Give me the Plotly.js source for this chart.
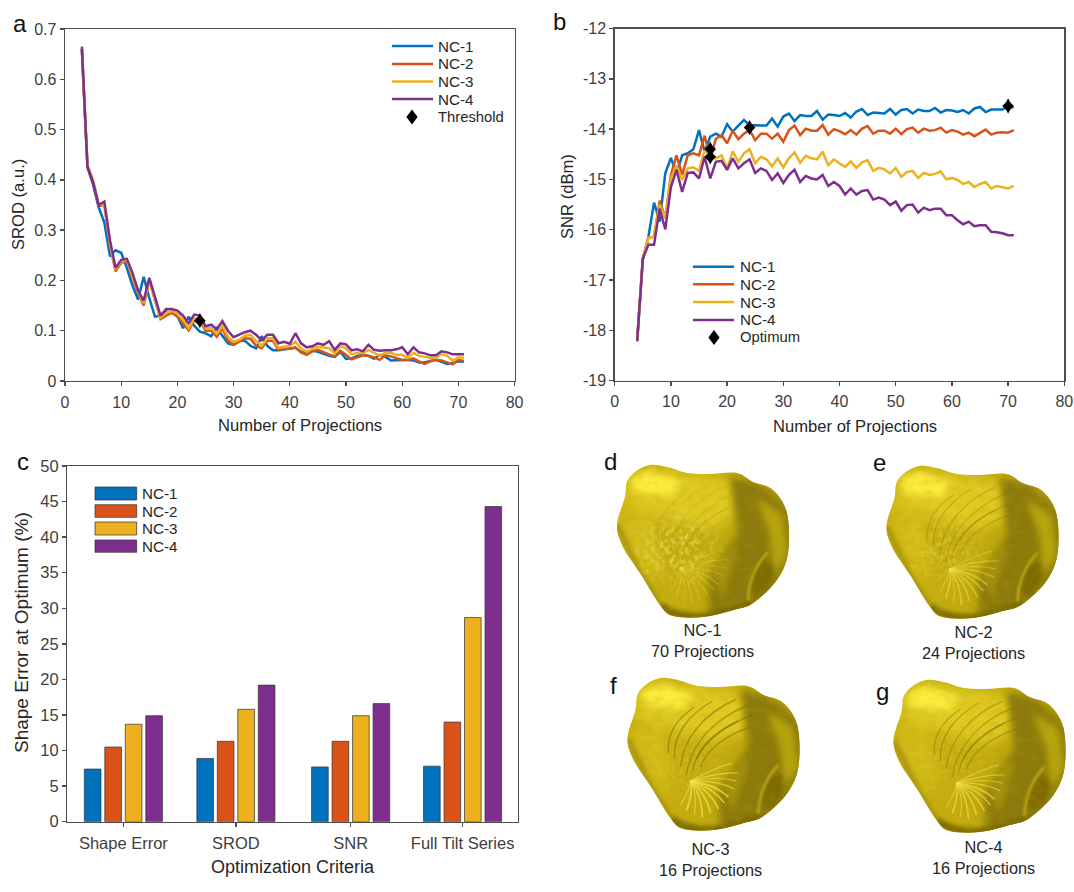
<!DOCTYPE html>
<html><head><meta charset="utf-8">
<script src="https://cdn.plot.ly/plotly-3.0.1.min.js"></script>
<style>html,body{margin:0;padding:0;background:#fff}</style></head>
<body><div id="chart" style="width:1074px;height:892px"></div>
<script>
const seriesNames = ['NC-1','NC-2','NC-3','NC-4'];
const seriesColors = ['#0072BD','#D95319','#EDB120','#7E2F8E'];

const sroProjections = [3,4,5,6,7,8,9,10,11,12,13,14,15,16,17,18,19,20,21,22,23,24,25,26,27,28,29,30,31,32,33,34,35,36,37,38,39,40,41,42,43,44,45,46,47,48,49,50,51,52,53,54,55,56,57,58,59,60,61,62,63,64,65,66,67,68,69,70,71];
const srodNC1 = [.66,.425,.39,.345,.315,.248,.26,.255,.225,.19,.162,.207,.165,.128,.13,.138,.136,.13,.105,.128,.11,.098,.095,.089,.105,.09,.075,.072,.08,.08,.07,.065,.089,.07,.061,.061,.063,.065,.066,.058,.055,.06,.058,.054,.05,.048,.058,.044,.045,.05,.052,.05,.044,.052,.048,.041,.042,.042,.042,.041,.037,.037,.04,.042,.038,.034,.036,.039,.039];
const srodNC2 = [.66,.425,.395,.348,.35,.27,.218,.235,.24,.205,.175,.15,.2,.16,.123,.13,.136,.128,.115,.101,.12,.12,.1,.1,.088,.105,.08,.072,.078,.085,.084,.07,.065,.08,.08,.062,.064,.064,.067,.057,.052,.059,.062,.057,.053,.049,.06,.052,.043,.047,.051,.05,.047,.042,.051,.049,.045,.042,.042,.045,.039,.034,.039,.042,.041,.037,.033,.042,.04];
const srodNC3 = [.66,.43,.4,.352,.35,.272,.222,.238,.24,.21,.178,.155,.2,.16,.126,.135,.14,.134,.122,.105,.125,.125,.105,.105,.094,.11,.088,.078,.082,.09,.092,.08,.07,.085,.085,.066,.068,.07,.078,.065,.058,.064,.068,.066,.065,.055,.07,.065,.053,.056,.055,.062,.056,.05,.056,.056,.052,.052,.046,.056,.05,.048,.046,.046,.054,.05,.04,.047,.046];
const srodNC4 = [.665,.426,.395,.35,.357,.28,.225,.241,.243,.215,.18,.16,.205,.165,.13,.143,.143,.14,.13,.115,.132,.13,.109,.112,.103,.119,.1,.087,.092,.097,.1,.092,.081,.092,.092,.075,.078,.074,.095,.075,.067,.069,.075,.072,.079,.062,.075,.073,.061,.063,.059,.072,.062,.06,.061,.061,.063,.067,.053,.067,.057,.055,.051,.051,.059,.057,.053,.053,.053];
const thresholdX = [24];
const thresholdY = [0.12];

const snrProjections = [4,5,6,7,8,9,10,11,12,13,14,15,16,17,18,19,20,21,22,23,24,25,26,27,28,29,30,31,32,33,34,35,36,37,38,39,40,41,42,43,44,45,46,47,48,49,50,51,52,53,54,55,56,57,58,59,60,61,62,63,64,65,66,67,68,69,70,71];
const snrNC1 = [-18.2,-16.6,-16.14,-15.46,-15.84,-14.88,-14.57,-14.88,-14.52,-14.48,-14.4,-14.02,-14.45,-14.15,-14.09,-14.15,-13.9,-14.05,-13.93,-13.82,-13.92,-13.93,-13.93,-13.93,-13.79,-13.95,-13.75,-13.69,-13.84,-13.72,-13.74,-13.74,-13.64,-13.81,-13.71,-13.72,-13.74,-13.68,-13.77,-13.65,-13.6,-13.72,-13.67,-13.68,-13.69,-13.6,-13.71,-13.62,-13.6,-13.69,-13.61,-13.64,-13.64,-13.58,-13.67,-13.62,-13.63,-13.66,-13.62,-13.69,-13.59,-13.56,-13.66,-13.61,-13.61,-13.61,-13.54,-13.57];
const snrNC2 = [-18.2,-16.57,-16.16,-16.14,-15.42,-15.77,-14.91,-14.52,-14.91,-14.52,-14.48,-14.52,-14.13,-14.6,-14.19,-14.12,-14.28,-14.03,-14.2,-14.09,-14.02,-14.22,-14.09,-14.09,-14.19,-14.09,-14.25,-14.02,-13.93,-14.12,-13.99,-14.03,-14.03,-13.92,-14.11,-14,-14.04,-14.1,-14.02,-14.11,-13.99,-13.94,-14.09,-14.03,-14.03,-14.09,-13.99,-14.1,-14,-13.97,-14.07,-13.99,-14.03,-14.02,-13.97,-14.07,-14.02,-14.05,-14.11,-14.07,-14.14,-14.07,-14.01,-14.11,-14.07,-14.06,-14.07,-14.02];
const snrNC3 = [-18.2,-16.57,-16.16,-16.14,-15.5,-15.77,-14.98,-14.72,-15.01,-14.78,-14.76,-14.83,-14.42,-14.55,-14.58,-14.52,-14.78,-14.44,-14.65,-14.48,-14.4,-14.68,-14.55,-14.6,-14.74,-14.58,-14.76,-14.58,-14.46,-14.67,-14.53,-14.58,-14.6,-14.45,-14.72,-14.6,-14.68,-14.75,-14.64,-14.77,-14.66,-14.62,-14.83,-14.77,-14.8,-14.88,-14.77,-14.95,-14.85,-14.83,-14.97,-14.87,-14.91,-14.89,-14.84,-15,-14.97,-15.01,-15.09,-15.05,-15.15,-15.09,-15.05,-15.18,-15.13,-15.15,-15.18,-15.13];
const snrNC4 = [-18.22,-16.57,-16.3,-16.3,-15.58,-15.99,-15.15,-14.81,-15.25,-14.87,-14.86,-14.98,-14.55,-14.98,-14.65,-14.63,-14.81,-14.58,-14.78,-14.68,-14.6,-14.87,-14.78,-14.83,-15.01,-14.88,-15.07,-14.91,-14.81,-15.05,-14.93,-14.98,-15,-14.91,-15.13,-15.05,-15.13,-15.3,-15.18,-15.3,-15.23,-15.21,-15.4,-15.36,-15.4,-15.51,-15.44,-15.62,-15.51,-15.5,-15.66,-15.56,-15.61,-15.58,-15.58,-15.71,-15.71,-15.81,-15.89,-15.84,-15.93,-15.91,-15.91,-16.04,-16.05,-16.07,-16.11,-16.11];
const optimumX = [17,17,24,70];
const optimumY = [-14.4,-14.55,-13.97,-13.54];

const criteriaLabels = ['Shape Error','SROD','SNR','Full Tilt Series'];
const criteriaPos = [1,1.995,3.01,4];
const errNC1 = [7.4,8.9,7.7,7.8];
const errNC2 = [10.5,11.3,11.3,14];
const errNC3 = [13.7,15.8,14.9,28.7];
const errNC4 = [14.9,19.2,16.6,44.3];

const panelLetters = [['a',20,23],['b',559,22],['c',23,461],['d',610,461],['e',879,462],['f',613,685],['g',882,691]];
const captions = [['NC-1<br>70 Projections',702,640],['NC-2<br>24 Projections',973,642],['NC-3<br>16 Projections',710,859],['NC-4<br>16 Projections',983,857]];
const axisTitles = [
 ['Number of Projections',300,426,16.6,0],
 ['Number of Projections',855,426.5,16.6,0],
 ['Optimization Criteria',293,866.7,18,0],
 ['SROD (a.u.)',18,205,16.6,-90],
 ['SNR (dBm)',567,197,16.6,-90],
 ['Shape Error at Optimum (%)',21,633,19,-90]
];

const W = 1074, H = 892;
const px = x => x / W, py = y => 1 - y / H;
const TICK = '#404040', LABEL = '#262626', AXIS = '#4d4d4d';

function ax(dom, range, extra){
  return Object.assign({domain:dom, range, showgrid:false, zeroline:false, showline:true, mirror:true,
    linecolor:AXIS, linewidth:1.4, ticks:'outside', ticklen:4, tickcolor:AXIS, tickwidth:1.4,
    tickfont:{family:'Liberation Sans, Arial',size:16,color:TICK}}, extra);
}

const traces = [];
[srodNC1,srodNC2,srodNC3,srodNC4].forEach((v,i)=>traces.push({type:'scatter',mode:'lines',name:seriesNames[i],x:sroProjections,y:v,xaxis:'x',yaxis:'y',line:{color:seriesColors[i],width:2.5},showlegend:false}));
[snrNC1,snrNC2,snrNC3,snrNC4].forEach((v,i)=>traces.push({type:'scatter',mode:'lines',name:seriesNames[i],x:snrProjections,y:v,xaxis:'x2',yaxis:'y2',line:{color:seriesColors[i],width:2.5},showlegend:false}));
function diamonds(name,xs,ys,xa,ya){
  traces.push({type:'scatter',mode:'markers',name,x:xs,y:ys,xaxis:xa,yaxis:ya,marker:{symbol:'diamond-tall',size:11,color:'#000'},showlegend:false,cliponaxis:false});
  traces.push({type:'scatter',mode:'markers',name,x:xs,y:ys,xaxis:xa,yaxis:ya,marker:{symbol:'diamond',size:9,color:'#000'},showlegend:false,cliponaxis:false});
}
diamonds('Threshold',thresholdX,thresholdY,'x','y');
diamonds('Optimum',optimumX,optimumY,'x2','y2');
[errNC1,errNC2,errNC3,errNC4].forEach((v,i)=>traces.push({type:'bar',name:seriesNames[i],x:criteriaPos,y:v,xaxis:'x3',yaxis:'y3',marker:{color:seriesColors[i],line:{color:'rgba(50,50,50,0.7)',width:1}},showlegend:false}));

const shapes = [], annotations = [];
const note = (text,x,y,size,anchor,color,extra) => annotations.push(Object.assign({text,xref:'paper',yref:'paper',x:px(x),y:py(y),xanchor:anchor||'left',yanchor:'middle',showarrow:false,font:{family:'Liberation Sans, Arial',size,color:color||LABEL},align:'center'},extra||{}));
function lineLegend(x0,x1,tx,ys,keyX,keyY,keyName){
  ys.forEach((y,i)=>{
    shapes.push({type:'line',xref:'paper',yref:'paper',x0:px(x0),x1:px(x1),y0:py(y),y1:py(y),line:{color:seriesColors[i],width:2.5}});
    note(seriesNames[i],tx,y,15.2);
  });
  const dx=5.6, dy=7.6;
  shapes.push({type:'path',xref:'paper',yref:'paper',fillcolor:'#000',line:{width:0},
    path:`M${px(keyX-dx)},${py(keyY)} L${px(keyX)},${py(keyY-dy)} L${px(keyX+dx)},${py(keyY)} L${px(keyX)},${py(keyY+dy)} Z`});
  note(keyName,tx,keyY,14.8);
}
lineLegend(392,433,436,[46,64,81.5,99],412,117,'Threshold');
lineLegend(693,734,738,[266.7,284.3,302,320],714,337.5,'Optimum');
[[487,500,493.7],[504.7,517.3,511],[522,535,528.7],[540,552.3,546]].forEach((r,i)=>{
  shapes.push({type:'rect',xref:'paper',yref:'paper',x0:px(95),x1:px(136.7),y0:py(r[0]),y1:py(r[1]),fillcolor:seriesColors[i],line:{color:'rgba(50,50,50,0.7)',width:1}});
  note(seriesNames[i],139.5,r[2],15.2);
});
panelLetters.forEach(l=>note(l[0],l[1],l[2],24,'center','#111'));
captions.forEach(c=>note(c[0],c[1],c[2],16.3,'center',LABEL));
axisTitles.forEach(t=>note(t[0],t[1],t[2],t[3],'center',LABEL,{textangle:t[4]}));

/* decorative particle illustrations, inline SVG */
const outline = [[7,75],[15,47],[17,32],[25,22],[40,15],[57,17],[77,23],[100,24],[127,23],[143,32],[163,40],[177,63],[178,103],[167,130],[143,153],[123,160],[93,167],[63,166],[50,155],[30,123],[13,97]];
function smooth(pts){
  const n=pts.length; let d=`M${pts[0][0]},${pts[0][1]}`;
  for(let i=0;i<n;i++){
    const p0=pts[(i-1+n)%n],p1=pts[i],p2=pts[(i+1)%n],p3=pts[(i+2)%n];
    d+=` C${(p1[0]+(p2[0]-p0[0])/6).toFixed(1)},${(p1[1]+(p2[1]-p0[1])/6).toFixed(1)} ${(p2[0]-(p3[0]-p1[0])/6).toFixed(1)},${(p2[1]-(p3[1]-p1[1])/6).toFixed(1)} ${p2[0]},${p2[1]}`;
  }
  return d+'Z';
}
const fanEnds = [[108,134],[114,126],[104,140],[116,118],[98,146],[118,110],[90,150],[112,100],[82,154],[74,152],[66,148],[60,142]];
const darkArcs = ['M66,112 C70,80 95,55 128,42','M72,108 C76,84 100,64 132,52','M60,104 C62,76 84,50 116,36','M80,104 C86,86 106,72 130,64','M54,96 C52,72 68,52 92,38','M76,96 C84,78 100,66 118,58','M48,90 C46,72 56,56 74,44'];
function particle(s){
  const blob=smooth(outline);
  const fan=fanEnds.map((e,i)=>`<path d="M70,118 Q${(70+e[0])/2+5},${(118+e[1])/2-5} ${e[0]},${e[1]}" stroke="#f6e550" stroke-width="${i%2?1.1:1.8}" fill="none" opacity="${s.fan}"/>`).join('');
  const arcs=darkArcs.map(d=>`<path d="${d}" stroke="#7a6900" stroke-width="1.4" fill="none" opacity="${s.arc}"/>`).join('');
  return 'data:image/svg+xml,'+encodeURIComponent(`<svg xmlns="http://www.w3.org/2000/svg" width="200" height="190" viewBox="0 0 200 190">
<defs><clipPath id="c"><path d="${blob}"/></clipPath>
<filter id="b1"><feGaussianBlur stdDeviation="1"/></filter>
<filter id="b2" x="-20%" y="-20%" width="140%" height="140%"><feGaussianBlur stdDeviation="2"/></filter>
<filter id="b4" x="-30%" y="-30%" width="160%" height="160%"><feGaussianBlur stdDeviation="3.5"/></filter>
<filter id="b7" x="-40%" y="-40%" width="180%" height="180%"><feGaussianBlur stdDeviation="7"/></filter>
<filter id="b05"><feGaussianBlur stdDeviation="0.7"/></filter>
<filter id="n" x="0" y="0" width="100%" height="100%"><feTurbulence type="fractalNoise" baseFrequency="0.09 0.14" numOctaves="2" seed="${s.seed}"/><feColorMatrix values="0 0 0 0 0.45  0 0 0 0 0.37  0 0 0 0 0  1.6 0 0 0 -0.7"/></filter>
<filter id="m" x="0" y="0" width="100%" height="100%"><feTurbulence type="fractalNoise" baseFrequency="${s.freq}" numOctaves="2" seed="${s.seed+7}"/><feColorMatrix values="0 0 0 0 0.97  0 0 0 0 0.88  0 0 0 0 0.22  2.4 0 0 0 -1.05"/><feGaussianBlur stdDeviation="0.6"/></filter>
<radialGradient id="rg"><stop offset="0.25" stop-color="#fff"/><stop offset="1" stop-color="#000"/></radialGradient>
<mask id="mk" maskUnits="userSpaceOnUse" x="0" y="0" width="200" height="190"><ellipse cx="66" cy="98" rx="56" ry="46" fill="url(#rg)"/></mask>
<linearGradient id="g" x1="0" y1="0" x2="1" y2="0.25"><stop offset="0" stop-color="#cdb514"/><stop offset="0.55" stop-color="#c4ac10"/><stop offset="1" stop-color="#a8940a"/></linearGradient></defs>
<g clip-path="url(#c)">
<rect width="200" height="190" fill="url(#g)"/>
<path d="M18,30 L60,20 L125,32 L128,68 L100,80 L50,66 L16,58 Z" fill="#e0ca22" filter="url(#b7)"/>
<path d="M20,28 L40,20 L72,32 L62,46 L24,42 Z" fill="#fbec3e" filter="url(#b4)"/>
<path d="M10,70 L40,60 L50,120 L38,130 Z" fill="#d9c31c" opacity=".7" filter="url(#b7)"/>
<path d="M120,26 L150,34 L182,62 L182,105 L152,162 L100,172 L98,128 L128,84 Z" fill="#8c7a08" filter="url(#b4)"/>
<path d="M146,48 L172,64 L178,104 L164,124 L160,84 Z" fill="#b8a410" filter="url(#b4)"/>
<path d="M102,122 L124,94 L128,98 L112,150 Z" fill="#b09c0e" opacity=".7" filter="url(#b4)"/>
<ellipse cx="152" cy="128" rx="9" ry="18" transform="rotate(20 152 128)" fill="#7e6c06" filter="url(#b2)"/>
<path d="M138,152 C138,132 146,114 158,102" stroke="#d2bd20" stroke-width="2.6" fill="none" opacity=".7" filter="url(#b1)"/>
<path d="M50,155 Q62,167 93,167 Q125,160 143,153" stroke="#7f6c04" stroke-width="8" fill="none" filter="url(#b2)"/>
<path d="M7,75 L30,123 L50,155" stroke="#a69208" stroke-width="5" fill="none" filter="url(#b2)"/>
<rect width="200" height="190" filter="url(#n)" opacity="${s.dark}"/>
<g mask="url(#mk)"><rect width="200" height="190" filter="url(#m)" opacity="${s.mottle}"/></g>
<g filter="url(#b05)">${arcs}${fan}</g>
</g></svg>`);
}
const particleStyles = [
 {x:610,y:450,freq:0.2,seed:3,fan:0.22,arc:0.1,dark:0.35,mottle:0.7},
 {x:879.5,y:451,freq:0.22,seed:5,fan:0.45,arc:0.25,dark:0.35,mottle:0.4},
 {x:620.5,y:663,freq:0.24,seed:9,fan:0.65,arc:0.5,dark:0.35,mottle:0.2},
 {x:886.5,y:665,freq:0.24,seed:13,fan:0.55,arc:0.38,dark:0.35,mottle:0.2}
];
const images = particleStyles.map(s=>({source:particle(s),xref:'paper',yref:'paper',x:px(s.x),y:py(s.y),sizex:200/W,sizey:190/H,xanchor:'left',yanchor:'top',sizing:'stretch',layer:'above'}));

const xt = [0,10,20,30,40,50,60,70,80];
const layout = {
  width:W,height:H,margin:{l:0,r:0,t:0,b:0},paper_bgcolor:'#fff',plot_bgcolor:'#fff',showlegend:false,
  barmode:'group',bargap:0.268,bargroupgap:0.187,
  font:{family:'Liberation Sans, Arial'},
  xaxis:ax([px(65),px(514.6)],[0,80],{tickvals:xt,anchor:'y',ticklabelstandoff:2}),
  yaxis:ax([py(381),py(29)],[0,0.7],{tickvals:[0,.1,.2,.3,.4,.5,.6,.7],ticktext:['0','0.1','0.2','0.3','0.4','0.5','0.6','0.7'],anchor:'x'}),
  xaxis2:ax([px(614.7),px(1064.3)],[0,80],{tickvals:xt,anchor:'y2',ticklabelstandoff:2}),
  yaxis2:ax([py(380.7),py(28.5)],[-19,-12],{tickvals:[-19,-18,-17,-16,-15,-14,-13,-12],ticktext:['-19','-18','-17','-16','-15','-14','-13','-12'],anchor:'x2'}),
  xaxis3:ax([px(67.3),px(518)],[0.504,4.49],{tickvals:criteriaPos,ticktext:criteriaLabels,anchor:'y3',ticklabelstandoff:2,tickfont:{family:'Liberation Sans, Arial',size:16.5,color:TICK}}),
  yaxis3:ax([py(821.7),py(466)],[0,50],{tickvals:[0,5,10,15,20,25,30,35,40,45,50],anchor:'x3',tickfont:{family:'Liberation Sans, Arial',size:16.5,color:TICK}}),
  shapes,annotations,images
};
Plotly.newPlot('chart',traces,layout,{displayModeBar:false,staticPlot:true});
</script></body></html>
